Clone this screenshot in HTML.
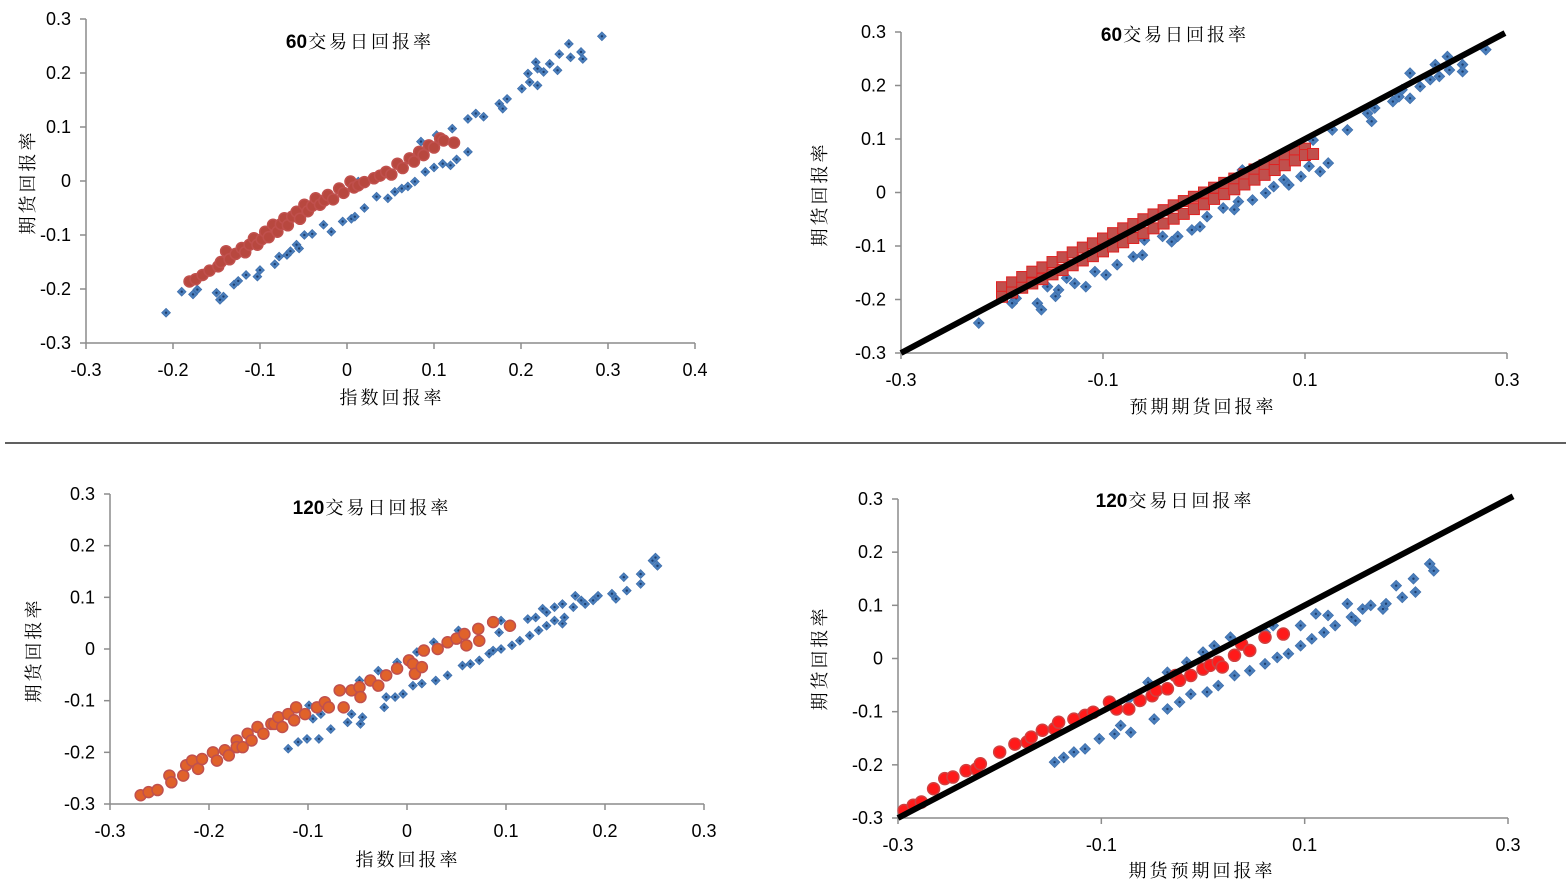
<!DOCTYPE html>
<html><head><meta charset="utf-8">
<style>
html,body{margin:0;padding:0;background:#fff;}
svg{display:block;}
text{font-family:"Liberation Sans","Noto Sans CJK SC",sans-serif;}
.tick{font-size:18px;fill:#000;}
.ttl{font-size:19px;font-weight:bold;fill:#000;}
.cjk{font-family:"Liberation Serif","Noto Serif CJK SC",serif;font-size:18px;fill:#000;letter-spacing:3px;}
</style></head>
<body>
<svg id="chart" width="1566" height="885" viewBox="0 0 1566 885" xmlns="http://www.w3.org/2000/svg">
<line x1="5" y1="443" x2="1566" y2="443" stroke="#000" stroke-width="1.2"/>
</svg>
<script>
// ---------- data ----------
const p1Blue=[[-0.208,-0.244],[-0.19,-0.205],[-0.177,-0.21],[-0.172,-0.201],[-0.15,-0.207],[-0.146,-0.22],[-0.142,-0.214],[-0.13,-0.192],[-0.125,-0.185],[-0.116,-0.174],[-0.103,-0.177],[-0.1,-0.165],[-0.083,-0.154],[-0.078,-0.14],[-0.069,-0.137],[-0.065,-0.13],[-0.058,-0.118],[-0.055,-0.125],[-0.049,-0.1],[-0.04,-0.098],[-0.027,-0.081],[-0.018,-0.094],[-0.005,-0.075],[0.005,-0.07],[0.009,-0.066],[0.02,-0.05],[0.034,-0.029],[0.047,-0.032],[0.055,-0.02],[0.063,-0.014],[0.07,-0.01],[0.078,-0.001],[0.09,0.017],[0.1,0.025],[0.11,0.032],[0.119,0.029],[0.126,0.04],[0.139,0.054],[0.013,-0.001],[0.04,0.015],[0.058,0.029],[0.085,0.073],[0.103,0.085],[0.121,0.097],[0.139,0.115],[0.148,0.125],[0.157,0.119],[0.175,0.143],[0.179,0.134],[0.184,0.152],[0.201,0.171],[0.21,0.183],[0.208,0.199],[0.219,0.177],[0.219,0.208],[0.217,0.22],[0.226,0.202],[0.233,0.217],[0.242,0.205],[0.244,0.235],[0.255,0.254],[0.257,0.229],[0.269,0.239],[0.271,0.226],[0.293,0.268]];
const p1Red=[[-0.181,-0.186],[-0.174,-0.182],[-0.166,-0.174],[-0.158,-0.166],[-0.148,-0.158],[-0.145,-0.15],[-0.139,-0.13],[-0.135,-0.145],[-0.128,-0.135],[-0.121,-0.124],[-0.117,-0.132],[-0.112,-0.118],[-0.107,-0.106],[-0.103,-0.118],[-0.098,-0.108],[-0.094,-0.094],[-0.09,-0.104],[-0.085,-0.081],[-0.08,-0.094],[-0.076,-0.08],[-0.072,-0.069],[-0.068,-0.082],[-0.063,-0.066],[-0.058,-0.057],[-0.054,-0.07],[-0.049,-0.044],[-0.045,-0.056],[-0.04,-0.046],[-0.036,-0.032],[-0.031,-0.044],[-0.026,-0.036],[-0.022,-0.026],[-0.016,-0.034],[-0.009,-0.014],[-0.004,-0.022],[0.004,-0.001],[0.008,-0.012],[0.013,-0.008],[0.02,-0.002],[0.031,0.005],[0.038,0.01],[0.045,0.017],[0.051,0.012],[0.058,0.032],[0.064,0.024],[0.072,0.042],[0.077,0.036],[0.083,0.054],[0.088,0.048],[0.094,0.066],[0.1,0.062],[0.107,0.079],[0.111,0.075],[0.123,0.071]];
const p2Blue=[[-0.223,-0.244],[-0.19,-0.207],[-0.186,-0.198],[-0.165,-0.207],[-0.161,-0.219],[-0.155,-0.176],[-0.147,-0.194],[-0.144,-0.182],[-0.136,-0.16],[-0.128,-0.17],[-0.117,-0.176],[-0.108,-0.148],[-0.097,-0.154],[-0.086,-0.135],[-0.07,-0.12],[-0.061,-0.117],[-0.059,-0.089],[-0.041,-0.082],[-0.032,-0.092],[-0.026,-0.082],[-0.012,-0.07],[-0.004,-0.064],[0.003,-0.045],[0.019,-0.029],[0.03,-0.032],[0.034,-0.017],[0.048,-0.014],[0.061,-0.001],[0.069,0.011],[0.079,0.024],[0.084,0.014],[0.096,0.03],[0.104,0.049],[0.115,0.039],[0.123,0.055],[0.038,0.042],[0.108,0.098],[0.127,0.117],[0.142,0.117],[0.162,0.148],[0.166,0.133],[0.169,0.158],[0.187,0.17],[0.193,0.179],[0.196,0.192],[0.204,0.223],[0.204,0.176],[0.214,0.198],[0.224,0.211],[0.229,0.239],[0.233,0.217],[0.241,0.254],[0.243,0.229],[0.256,0.239],[0.256,0.226],[0.279,0.267]];
const p2Red=[[-0.2,-0.177],[-0.2,-0.195],[-0.19,-0.168],[-0.19,-0.187],[-0.18,-0.158],[-0.18,-0.178],[-0.17,-0.148],[-0.17,-0.17],[-0.16,-0.14],[-0.16,-0.162],[-0.15,-0.13],[-0.15,-0.153],[-0.14,-0.121],[-0.14,-0.145],[-0.13,-0.112],[-0.13,-0.136],[-0.12,-0.103],[-0.12,-0.127],[-0.11,-0.095],[-0.11,-0.119],[-0.1,-0.086],[-0.1,-0.11],[-0.09,-0.076],[-0.09,-0.101],[-0.08,-0.067],[-0.08,-0.093],[-0.07,-0.059],[-0.07,-0.085],[-0.06,-0.05],[-0.06,-0.076],[-0.05,-0.041],[-0.05,-0.067],[-0.04,-0.033],[-0.04,-0.058],[-0.03,-0.024],[-0.03,-0.049],[-0.02,-0.016],[-0.02,-0.04],[-0.01,-0.008],[-0.01,-0.031],[0,0.0],[0,-0.022],[0.01,0.009],[0.01,-0.012],[0.02,0.018],[0.02,-0.003],[0.03,0.026],[0.03,0.006],[0.04,0.034],[0.04,0.015],[0.05,0.043],[0.05,0.024],[0.06,0.051],[0.06,0.033],[0.07,0.06],[0.07,0.042],[0.08,0.068],[0.08,0.051],[0.09,0.076],[0.09,0.06],[0.1,0.082],[0.1,0.07],[0.108,0.072]];
const p3Blue=[[-0.099,-0.109],[-0.087,-0.126],[-0.095,-0.135],[-0.048,-0.061],[-0.029,-0.042],[-0.01,-0.026],[0.01,-0.006],[0.027,0.013],[0.052,0.036],[0.095,0.055],[0.093,0.032],[-0.12,-0.193],[-0.11,-0.18],[-0.101,-0.174],[-0.089,-0.174],[-0.077,-0.155],[-0.06,-0.142],[-0.056,-0.126],[-0.047,-0.145],[-0.045,-0.132],[-0.023,-0.113],[-0.021,-0.093],[-0.012,-0.093],[-0.004,-0.087],[0.006,-0.071],[0.015,-0.067],[0.029,-0.061],[0.041,-0.051],[0.056,-0.032],[0.064,-0.029],[0.073,-0.022],[0.083,-0.009],[0.087,-0.003],[0.095,0.0],[0.106,0.007],[0.114,0.016],[0.122,0.058],[0.124,0.026],[0.13,0.061],[0.133,0.036],[0.137,0.078],[0.141,0.045],[0.141,0.071],[0.149,0.055],[0.149,0.081],[0.157,0.087],[0.157,0.049],[0.159,0.061],[0.168,0.081],[0.17,0.103],[0.176,0.094],[0.18,0.087],[0.188,0.094],[0.193,0.103],[0.207,0.107],[0.211,0.097],[0.219,0.139],[0.222,0.113],[0.236,0.145],[0.236,0.126],[0.248,0.171],[0.251,0.177],[0.253,0.161]];
const p3Red=[[-0.269,-0.283],[-0.261,-0.277],[-0.252,-0.273],[-0.24,-0.245],[-0.238,-0.258],[-0.226,-0.245],[-0.223,-0.225],[-0.217,-0.216],[-0.211,-0.232],[-0.207,-0.213],[-0.196,-0.2],[-0.192,-0.216],[-0.184,-0.196],[-0.18,-0.206],[-0.172,-0.177],[-0.172,-0.19],[-0.166,-0.19],[-0.161,-0.164],[-0.157,-0.177],[-0.151,-0.151],[-0.145,-0.164],[-0.137,-0.145],[-0.134,-0.145],[-0.13,-0.132],[-0.126,-0.151],[-0.12,-0.126],[-0.114,-0.138],[-0.112,-0.113],[-0.103,-0.126],[-0.091,-0.113],[-0.083,-0.103],[-0.079,-0.113],[-0.068,-0.08],[-0.064,-0.113],[-0.056,-0.08],[-0.048,-0.074],[-0.047,-0.093],[-0.037,-0.061],[-0.029,-0.071],[-0.021,-0.051],[-0.01,-0.038],[0.002,-0.022],[0.006,-0.029],[0.008,-0.048],[0.015,-0.035],[0.017,-0.003],[0.031,0.0],[0.041,0.013],[0.05,0.02],[0.058,0.029],[0.06,0.007],[0.072,0.039],[0.073,0.016],[0.087,0.052],[0.104,0.045]];
const p4Blue=[[-0.119,-0.107],[-0.073,-0.076],[-0.054,-0.045],[-0.035,-0.026],[-0.016,-0.007],[0.0,0.012],[0.011,0.024],[0.027,0.04],[0.061,0.049],[0.069,0.062],[-0.146,-0.195],[-0.137,-0.186],[-0.127,-0.176],[-0.116,-0.17],[-0.102,-0.151],[-0.087,-0.142],[-0.081,-0.126],[-0.071,-0.139],[-0.048,-0.114],[-0.035,-0.095],[-0.023,-0.082],[-0.012,-0.067],[0.004,-0.063],[0.015,-0.051],[0.031,-0.032],[0.046,-0.023],[0.061,-0.01],[0.073,0.002],[0.084,0.009],[0.096,0.024],[0.096,0.062],[0.107,0.037],[0.111,0.084],[0.119,0.049],[0.123,0.081],[0.13,0.062],[0.142,0.103],[0.146,0.078],[0.15,0.071],[0.157,0.093],[0.165,0.1],[0.177,0.093],[0.18,0.103],[0.19,0.137],[0.196,0.115],[0.207,0.15],[0.209,0.125],[0.223,0.178],[0.227,0.165]];
const p4Red=[[-0.294,-0.286],[-0.285,-0.276],[-0.277,-0.27],[-0.265,-0.245],[-0.254,-0.226],[-0.246,-0.223],[-0.233,-0.211],[-0.223,-0.208],[-0.219,-0.198],[-0.2,-0.176],[-0.185,-0.161],[-0.173,-0.157],[-0.169,-0.148],[-0.158,-0.135],[-0.146,-0.132],[-0.142,-0.12],[-0.127,-0.114],[-0.116,-0.107],[-0.108,-0.101],[-0.092,-0.082],[-0.085,-0.095],[-0.073,-0.095],[-0.062,-0.079],[-0.05,-0.07],[-0.046,-0.06],[-0.035,-0.057],[-0.027,-0.032],[-0.023,-0.041],[-0.012,-0.032],[0.0,-0.02],[0.007,-0.013],[0.015,-0.007],[0.019,-0.016],[0.031,0.006],[0.038,0.027],[0.046,0.015],[0.061,0.04],[0.079,0.046]];
const p1XTicks=["-0.3","-0.2","-0.1","0","0.1","0.2","0.3","0.4"];
const yTicks=["-0.3","-0.2","-0.1","0","0.1","0.2","0.3"];
const p24XTicks=["-0.3","-0.1","0.1","0.3"];
const p3XTicks=["-0.3","-0.2","-0.1","0","0.1","0.2","0.3"];
const refLine=[[-0.3,-0.3],[0.3,0.3]];

const NS="http://www.w3.org/2000/svg";
const svg=document.getElementById('chart');
function mk(tag,attrs,parent){const e=document.createElementNS(NS,tag);for(const k in attrs)e.setAttribute(k,attrs[k]);(parent||svg).appendChild(e);return e;}

function panel(cfg){
  const g=mk('g',{});
  
  
  const sx=v=>cfg.x0+(v-cfg.xmin)/(cfg.xmax-cfg.xmin)*(cfg.x1-cfg.x0);
  const sy=v=>cfg.y0-(v-cfg.ymin)/(cfg.ymax-cfg.ymin)*(cfg.y0-cfg.y1);
  const ya=mk('line',{x1:cfg.x0,y1:cfg.y1,x2:cfg.x0,y2:cfg.y0,stroke:'#8c8c8c','stroke-width':1.5},g);
  
  
  const xa=mk('line',{x1:cfg.x0,y1:cfg.y0,x2:cfg.x1,y2:cfg.y0,stroke:'#8c8c8c','stroke-width':1.5},g);
  
  
  yTicks.forEach(t=>{const v=parseFloat(t),y=sy(v);
    const tm=mk('line',{x1:cfg.x0-6,y1:y,x2:cfg.x0,y2:y,stroke:'#8c8c8c','stroke-width':1.5},g);
    
    
    const tx=mk('text',{x:cfg.x0-15,y:y+6,'text-anchor':'end',class:'tick'},g);tx.textContent=t;
    
    
  });
  cfg.xticks.forEach(t=>{const v=parseFloat(t),x=sx(v);
    const tm=mk('line',{x1:x,y1:cfg.y0,x2:x,y2:cfg.y0+6,stroke:'#8c8c8c','stroke-width':1.5},g);
    
    
    const tx=mk('text',{x:x,y:cfg.y0+33,'text-anchor':'middle',class:'tick'},g);tx.textContent=t;
    
    
  });
  cfg.blue.forEach(p=>{const x=sx(p[0]),y=sy(p[1]),r=cfg.dr;
    const d=mk('polygon',{points:`${x},${y-r} ${x+r},${y} ${x},${y+r} ${x-r},${y}`,fill:'#4a7ebb',stroke:'#3a6aa8','stroke-width':0.6},g);
    
    
    const c=mk('circle',{cx:x,cy:y,r:1.2,fill:'#1f3f6e'},g);
    
    
  });
  cfg.red.forEach(p=>{const x=sx(p[0]),y=sy(p[1]);let m;
    if(cfg.redShape==='square'){m=mk('rect',{x:x-5.5,y:y-5.5,width:11,height:11,fill:'#c0504d',stroke:'#e02020','stroke-width':1},g);}
    else{m=mk('circle',{cx:x,cy:y,r:cfg.rr,fill:cfg.redFill,stroke:cfg.redStroke,'stroke-width':1.5},g);}
    
    
  });
  if(cfg.line){const l=mk('line',{x1:sx(refLine[0][0]),y1:sy(refLine[0][1]),x2:sx(cfg.lineEnd),y2:sy(cfg.lineEnd),stroke:'#000','stroke-width':6},g);
    
    }
  const ti=mk('text',{x:cfg.tx,y:cfg.ty,'text-anchor':'middle'},g);
  
  
  ti.innerHTML=`<tspan class="ttl">${cfg.tnum}</tspan><tspan class="cjk" dx="1">交易日回报率</tspan>`;
  const xl=mk('text',{x:cfg.xlx,y:cfg.xly,'text-anchor':'middle',class:'cjk'},g);xl.textContent=cfg.xlabel;
  
  
  const yl=mk('text',{x:0,y:0,'text-anchor':'middle',class:'cjk',transform:`translate(${cfg.ylx},${cfg.yly}) rotate(-90)`},g);yl.textContent='期货回报率';
  
  
}

panel({name:'panel-60d-index',x0:86,x1:695,y0:343,y1:19,xmin:-0.3,xmax:0.4,ymin:-0.3,ymax:0.3,xticks:p1XTicks,
  blue:p1Blue,red:p1Red,dr:4.5,rr:5.5,redFill:'#b8483f',redStroke:'#c0504d',tx:360,ty:48,tnum:'60',xlabel:'指数回报率',xlx:392,xly:404,ylx:34,yly:182});
panel({name:'panel-60d-expected',x0:901,x1:1507,y0:353,y1:32,xmin:-0.3,xmax:0.3,ymin:-0.3,ymax:0.3,xticks:p24XTicks,
  blue:p2Blue,red:p2Red,redShape:'square',dr:5.5,line:true,lineEnd:0.298,tx:1175,ty:41,tnum:'60',xlabel:'预期期货回报率',xlx:1203,xly:413,ylx:826,yly:194});
panel({name:'panel-120d-index',x0:110,x1:704,y0:804,y1:494,xmin:-0.3,xmax:0.3,ymin:-0.3,ymax:0.3,xticks:p3XTicks,
  blue:p3Blue,red:p3Red,dr:4.5,rr:5.5,redFill:'#e0622a',redStroke:'#c0504d',tx:372,ty:514,tnum:'120',xlabel:'指数回报率',xlx:408,xly:866,ylx:40,yly:650});
panel({name:'panel-120d-expected',x0:898,x1:1508,y0:818,y1:499,xmin:-0.3,xmax:0.3,ymin:-0.3,ymax:0.3,xticks:p24XTicks,
  blue:p4Blue,red:p4Red,dr:5.5,rr:6,redFill:'#ff1a1a',redStroke:'#d04040',line:true,lineEnd:0.305,tx:1175,ty:507,tnum:'120',xlabel:'期货预期回报率',xlx:1202,xly:877,ylx:826,yly:658});
</script>
</body></html>
